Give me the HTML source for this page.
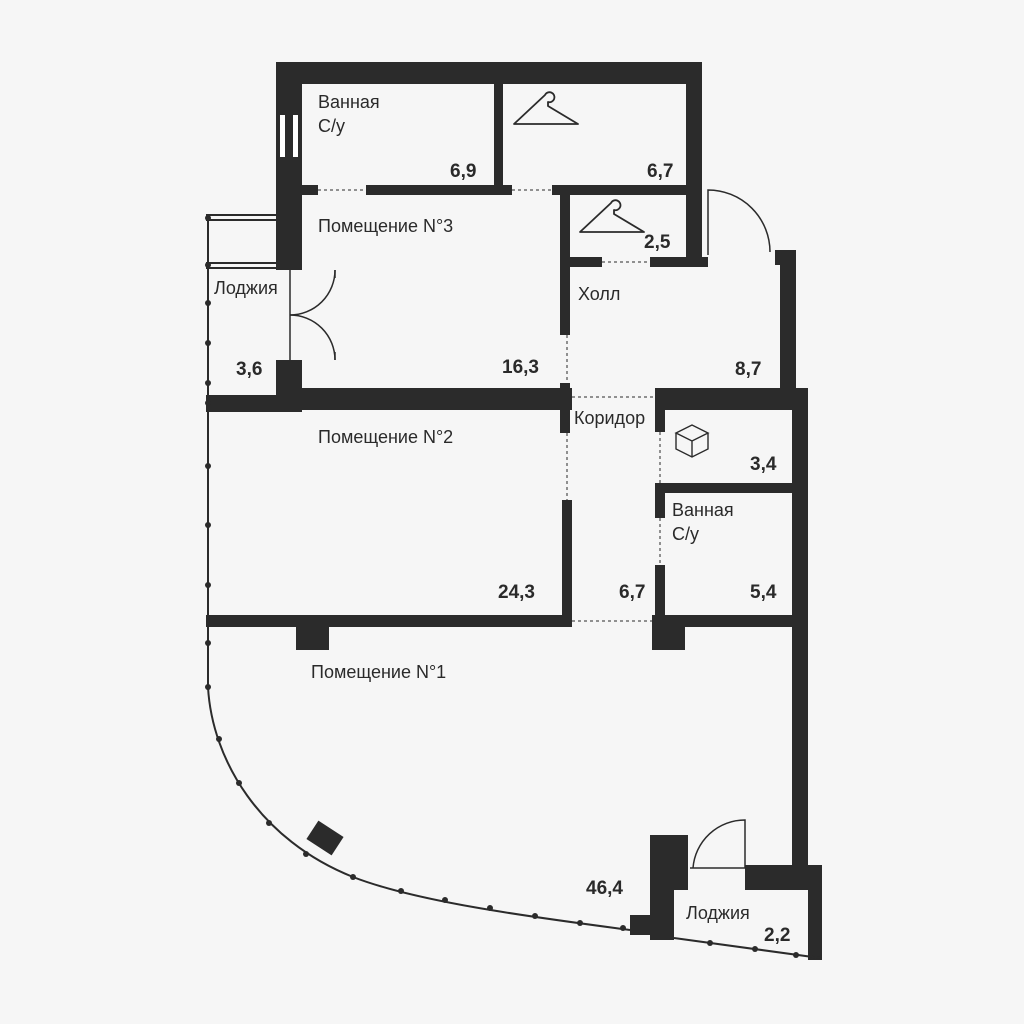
<!DOCTYPE html>
<html><head><meta charset="utf-8"><style>
html,body{margin:0;padding:0;background:#f6f6f6;}
svg{display:block}
text{font-family:"Liberation Sans",sans-serif;fill:#2a2a2a}
.l{font-size:18px}
.n{font-size:19px;font-weight:bold}
</style></head><body>
<svg width="1024" height="1024" viewBox="0 0 1024 1024" xmlns="http://www.w3.org/2000/svg">
<rect width="1024" height="1024" fill="#f6f6f6"/>
<g fill="#2b2b2b">
<rect x="276" y="62" width="426" height="22"/>
<rect x="276" y="62" width="26" height="208"/>
<rect x="686" y="62" width="16" height="203"/>
<rect x="494" y="84" width="9" height="111"/>
<rect x="302" y="185" width="16" height="10"/>
<rect x="366" y="185" width="146" height="10"/>
<rect x="552" y="185" width="136" height="10"/>
<rect x="560" y="185" width="10" height="150"/>
<rect x="570" y="257" width="32" height="10"/>
<rect x="650" y="257" width="58" height="10"/>
<rect x="775" y="250" width="21" height="15"/>
<rect x="780" y="250" width="16" height="140"/>
<rect x="276" y="360" width="26" height="52"/>
<rect x="206" y="395" width="96" height="17"/>
<rect x="302" y="388" width="270" height="22"/>
<rect x="560" y="383" width="10" height="50"/>
<rect x="562" y="500" width="10" height="127"/>
<rect x="655" y="388" width="153" height="22"/>
<rect x="655" y="410" width="10" height="22"/>
<rect x="792" y="388" width="16" height="482"/>
<rect x="655" y="483" width="153" height="10"/>
<rect x="655" y="483" width="10" height="35"/>
<rect x="655" y="565" width="10" height="55"/>
<rect x="652" y="615" width="33" height="35"/>
<rect x="685" y="615" width="123" height="12"/>
<rect x="206" y="615" width="366" height="12"/>
<rect x="296" y="627" width="33" height="23"/>
<rect x="650" y="835" width="38" height="55"/>
<rect x="650" y="885" width="24" height="55"/>
<rect x="630" y="915" width="30" height="20"/>
<rect x="745" y="865" width="75" height="25"/>
<rect x="808" y="865" width="14" height="95"/>
<rect x="310" y="827" width="30" height="22" transform="rotate(33 325 838)"/>
</g>
<rect x="280" y="115" width="5" height="42" fill="#fff"/>
<rect x="293" y="115" width="5" height="42" fill="#fff"/>
<g stroke="#2b2b2b" fill="none">
<g stroke-width="1" stroke-dasharray="3,3">
<line x1="318" y1="190" x2="366" y2="190"/>
<line x1="512" y1="190" x2="552" y2="190"/>
<line x1="602" y1="262" x2="650" y2="262"/>
<line x1="567" y1="335" x2="567" y2="383"/>
<line x1="572" y1="397" x2="655" y2="397"/>
<line x1="567" y1="433" x2="567" y2="500"/>
<line x1="660" y1="432" x2="660" y2="483"/>
<line x1="660" y1="518" x2="660" y2="565"/>
<line x1="572" y1="621" x2="652" y2="621"/>
</g>
<g stroke-width="1.5">
<path d="M708,255 L708,190 A62,62 0 0 1 770,252"/>
<path d="M290,270 L290,360"/>
<path d="M335,270 A45,45 0 0 1 290,315"/>
<path d="M290,315 A45,45 0 0 1 335,360"/>
<path d="M335,270 L335,278 M335,352 L335,360"/>
<path d="M693,868 A52,52 0 0 1 745,820 L745,868 L690,868"/>
</g>
<g stroke-width="2">
<line x1="206" y1="215" x2="276" y2="215"/><line x1="206" y1="220" x2="276" y2="220"/>
<line x1="206" y1="263" x2="276" y2="263"/><line x1="206" y1="268" x2="276" y2="268"/>
<line x1="208" y1="215" x2="208" y2="400"/>
<line x1="208" y1="412" x2="208" y2="690"/>
<path d="M208,687 C212,760 260,840 353,877 C420,903 540,918 630,930"/>
<path d="M674,938 L820,958"/>
</g>
<g stroke-width="1.8">
<path d="M545,95 a5,5 0 1 1 3,7 l0,4 l30,18 l-64,0 z" stroke-linejoin="round"/>
<path d="M611,203 a5,5 0 1 1 3,7 l0,4 l30,18 l-64,0 z" stroke-linejoin="round"/>
<path d="M676,433 l16,-8 l16,8 l-16,8 z M676,433 l0,16 l16,8 l16,-8 l0,-16 M692,441 l0,16" stroke-width="1.4"/>
</g>
</g>
<g fill="#2b2b2b">
<circle cx="208" cy="218" r="3"/><circle cx="208" cy="265" r="3"/><circle cx="208" cy="303" r="3"/><circle cx="208" cy="343" r="3"/><circle cx="208" cy="383" r="3"/><circle cx="208" cy="403" r="3"/>
<circle cx="208" cy="466" r="3"/><circle cx="208" cy="525" r="3"/><circle cx="208" cy="585" r="3"/><circle cx="208" cy="643" r="3"/><circle cx="208" cy="687" r="3"/>
<circle cx="219" cy="739" r="3"/><circle cx="239" cy="783" r="3"/><circle cx="269" cy="823" r="3"/><circle cx="306" cy="854" r="3"/>
<circle cx="353" cy="877" r="3"/><circle cx="401" cy="891" r="3"/><circle cx="445" cy="900" r="3"/><circle cx="490" cy="908" r="3"/><circle cx="535" cy="916" r="3"/><circle cx="580" cy="923" r="3"/><circle cx="623" cy="928" r="3"/>
<circle cx="710" cy="943" r="3"/><circle cx="755" cy="949" r="3"/><circle cx="796" cy="955" r="3"/>
</g>
<text class="l" x="318" y="108">Ванная</text>
<text class="l" x="318" y="132">С/у</text>
<text class="n" x="450" y="177">6,9</text>
<text class="n" x="647" y="177">6,7</text>
<text class="l" x="318" y="232">Помещение N°3</text>
<text class="n" x="644" y="248">2,5</text>
<text class="l" x="214" y="294">Лоджия</text>
<text class="l" x="578" y="300">Холл</text>
<text class="n" x="236" y="375">3,6</text>
<text class="n" x="502" y="373">16,3</text>
<text class="n" x="735" y="375">8,7</text>
<text class="l" x="574" y="424">Коридор</text>
<text class="l" x="318" y="443">Помещение N°2</text>
<text class="n" x="750" y="470">3,4</text>
<text class="l" x="672" y="516">Ванная</text>
<text class="l" x="672" y="540">С/у</text>
<text class="n" x="498" y="598">24,3</text>
<text class="n" x="619" y="598">6,7</text>
<text class="n" x="750" y="598">5,4</text>
<text class="l" x="311" y="678">Помещение N°1</text>
<text class="n" x="586" y="894">46,4</text>
<text class="l" x="686" y="919">Лоджия</text>
<text class="n" x="764" y="941">2,2</text>
</svg>
</body></html>
